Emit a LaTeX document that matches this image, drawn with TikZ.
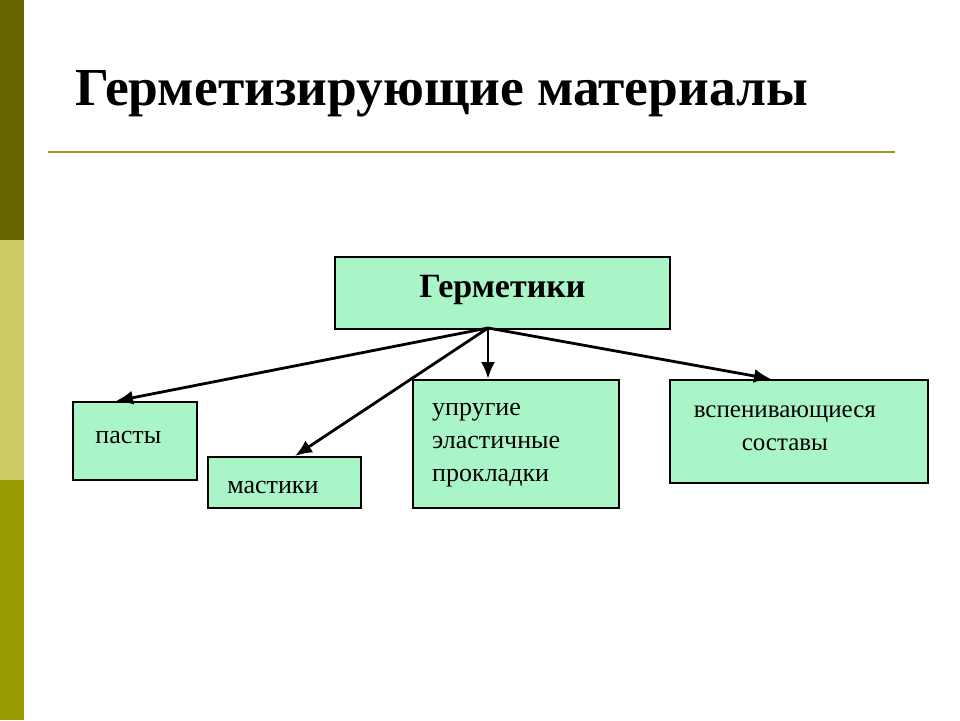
\documentclass[tikz,border=0pt]{standalone}
\usepackage{fontspec}
\setmainfont{Liberation Serif}
\usetikzlibrary{arrows.meta,calc}
\definecolor{barA}{RGB}{102,102,0}
\definecolor{barB}{RGB}{204,204,102}
\definecolor{barC}{RGB}{153,153,0}
\definecolor{rulec}{RGB}{153,153,34}
\definecolor{mint}{RGB}{170,245,200}
\tikzset{
  box/.style={draw=black, line width=1.8pt, fill=mint, rectangle, inner sep=0pt, anchor=north west,
    label distance=0pt},
  boxtext/.style={inner sep=0pt, font=\fontsize{26}{33}\selectfont},
  conn/.style={draw=black, line width=2.8pt, -{Latex[length=17pt,width=14pt]}},
}
\begin{document}
\begin{tikzpicture}[x=1pt,y=-1pt]
\useasboundingbox (0,0) rectangle (960,720);
\fill[white] (0,0) rectangle (960,720);
% side bar
\fill[barA] (0,0) rectangle (24,240);
\fill[barB] (0,240) rectangle (24,480);
\fill[barC] (0,480) rectangle (24,720);
% title
\node[anchor=base west, inner sep=0pt, font=\fontsize{53.5}{58}\selectfont\bfseries] (title) at (75,105) {Герметизирующие материалы};
\draw[rulec, line width=2pt] (48,152) coordinate (r1) -- (895,152) coordinate (r2);
% boxes
\node[box, minimum width=335, minimum height=72,
  label={[inner sep=0pt, font=\fontsize{34}{40}\selectfont\bfseries, shift={(0,-3)}]center:Герметики}] (top) at (334,256) {};
\node[box, minimum width=124, minimum height=78,
  label={[boxtext, shift={(-6.5,-3)}]center:пасты}] (pasty) at (72,401) {};
\node[box, minimum width=153, minimum height=51,
  label={[boxtext, shift={(-11.5,5.5)}]center:мастики}] (mast) at (207,456) {};
\node[box, minimum width=206, minimum height=128,
  label={[boxtext, align=left, anchor=west, shift={(20,1.5)}]west:упругие\\эластичные\\прокладки}] (upr) at (412,379) {};
\node[box, minimum width=258, minimum height=103,
  label={[boxtext, align=center, font=\fontsize{25}{33}\selectfont, shift={(-14,-3)}]center:вспенивающиеся\\составы}] (vsp) at (669,379) {};
% connectors
\coordinate (src) at (488,328);
\draw[conn] (src) -- ($(pasty.north west)+(44,0)$);
\draw[conn] (src) -- ($(mast.north west)+(88,0)$);
\draw[conn] (src) -- (src |- upr.north);
\draw[conn] (src) -- ($(vsp.north west)+(102,0)$);
\end{tikzpicture}
\end{document}
